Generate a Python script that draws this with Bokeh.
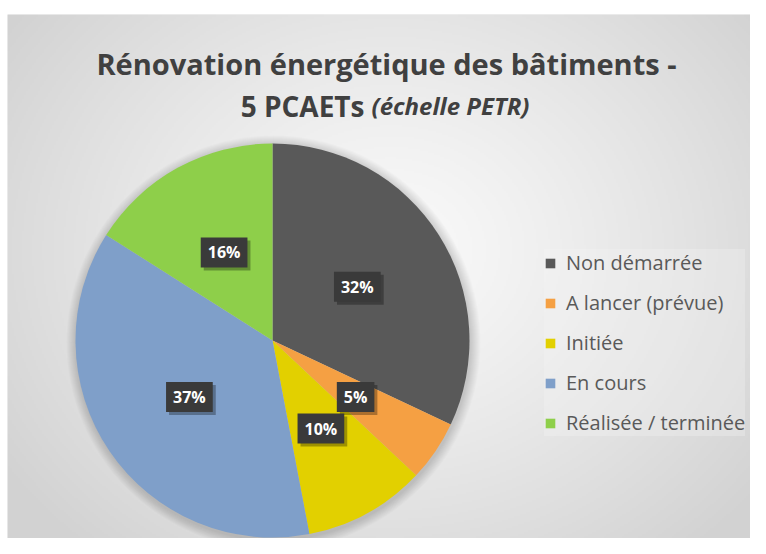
import numpy as np
from bokeh.plotting import figure
from bokeh.models import Range1d, Label, Legend, LegendItem, ColumnDataSource
from bokeh.core.properties import value
from bokeh.embed import file_html
from bokeh.resources import INLINE

# ---------------- data ----------------
categories = ["Non démarrée", "A lancer (prévue)", "Initiée", "En cours", "Réalisée / terminée"]
percent = [32, 5, 10, 37, 16]
colors = ["#595959", "#F5A043", "#E2D000", "#7F9FC9", "#8ECF4A"]
labels = ["32%", "5%", "10%", "37%", "16%"]
title_line1 = "Rénovation énergétique des bâtiments -"
title_line2_main = "5 PCAETs"
title_line2_sub = "(échelle PETR)"

# ---------------- layout (1 data unit = 1 px, y = -image_y) ----------------
W, H = 750, 538
L, T = 7, 14
p = figure(width=W, height=H, output_backend="svg", toolbar_location=None,
           x_range=Range1d(L, W), y_range=Range1d(-H, -T),
           x_axis_location=None, y_axis_location=None,
           min_border_left=L, min_border_right=0, min_border_bottom=0, min_border_top=T)
p.grid.visible = False
p.outline_line_color = None
p.border_fill_color = "white"
p.background_fill_color = "#e0e0e0"

# radial gradient background
gx = np.linspace(L, W, 372)
gy = np.linspace(T, H, 262)
X, Y = np.meshgrid(gx, gy)
d = np.clip(np.sqrt(((X - 390) / 470) ** 2 + ((Y - 250) / 400) ** 2), 0, 1)
v = (250 - (250 - 210) * d ** 1.2).astype(np.uint8)
img = np.empty(X.shape, dtype=np.uint32)
view = img.view(dtype=np.uint8).reshape(X.shape + (4,))
view[..., 0] = v
view[..., 1] = v
view[..., 2] = v
view[..., 3] = 255
p.image_rgba(image=[img[::-1]], x=L, y=-H, dw=W - L, dh=H - T)

cx, cy, R = 272, -340, 197

# soft shadow around the pie
for k in range(10, 0, -1):
    p.circle(x=cx + 1, y=cy - 2, radius=R + k, fill_color="black", fill_alpha=0.016, line_color=None)

frac = np.array(percent, dtype=float) / sum(percent)
cum = np.cumsum(frac)
start = np.pi / 2 - 2 * np.pi * (cum - frac)
end = np.pi / 2 - 2 * np.pi * cum
mid = (start + end) / 2
src = ColumnDataSource(dict(cat=categories, start=start, end=end, color=colors,
                            lx=cx + 0.51 * R * np.cos(mid), ly=cy + 0.51 * R * np.sin(mid),
                            label=labels))
r = p.wedge(x=cx, y=cy, radius=R, start_angle="start", end_angle="end", direction="clock",
            fill_color="color", line_color=None, source=src)

# data labels with shadow
p.text(x="lx", y="ly", text="label", source=src, x_offset=3, y_offset=3,
       text_align="center", text_baseline="middle", text_alpha=0,
       text_font=value("Open Sans"), text_font_style="bold", text_font_size="16px",
       background_fill_color="black", background_fill_alpha=0.3, padding=(7, 4))
p.text(x="lx", y="ly", text="label", source=src,
       text_align="center", text_baseline="middle", text_color="white",
       text_font=value("Open Sans"), text_font_style="bold", text_font_size="16px",
       background_fill_color="#3a3a3a", padding=(7, 4))

# title
p.add_layout(Label(x=386, y=-63, text=title_line1, text_align="center", text_baseline="alphabetic",
                   text_font="Open Sans", text_font_style="bold", text_font_size="29px", text_color="#404040"))
p.add_layout(Label(x=364, y=-105, text=title_line2_main, text_align="right", text_baseline="alphabetic",
                   text_font="Open Sans", text_font_style="bold", text_font_size="28px", text_color="#404040"))
p.add_layout(Label(x=371, y=-105, text=title_line2_sub, text_align="left", text_baseline="alphabetic",
                   text_font="Open Sans", text_font_style="bold italic", text_font_size="24px", text_color="#404040"))

# legend
items = [LegendItem(label=c, renderers=[r], index=i) for i, c in enumerate(categories)]
legend = Legend(items=items, location=(537, 102), orientation="vertical",
                glyph_width=12, glyph_height=12, label_height=24, spacing=13,
                padding=10, margin=0, label_standoff=10,
                label_text_font="Open Sans", label_text_font_size="20px", label_text_color="#595959",
                background_fill_color="#f4f4f4", background_fill_alpha=0.3, border_line_color=None)
p.add_layout(legend)

open("out.html", "w").write(file_html(p, INLINE))
